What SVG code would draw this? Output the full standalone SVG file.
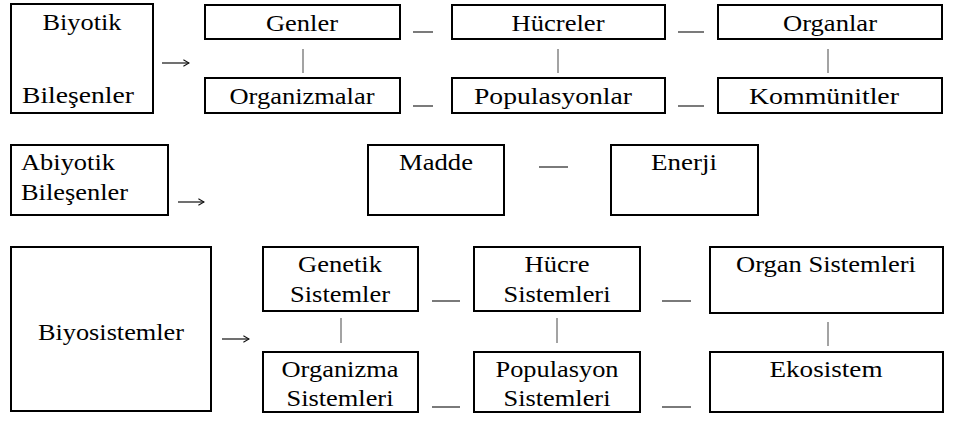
<svg xmlns="http://www.w3.org/2000/svg" width="955" height="421" viewBox="0 0 955 421">
<style>
.box{fill:#fff;stroke:#000;stroke-width:2}
.c{text-anchor:middle}
.dash{stroke:#222;stroke-width:1.2}
.bar{stroke:#666;stroke-width:1.2}
.arr{stroke:#111;stroke-width:1.2;fill:none}
</style>
<defs>
<marker id="ah" viewBox="0 0 10 10" refX="9" refY="5" markerWidth="8" markerHeight="8" markerUnits="userSpaceOnUse" orient="auto">
<path d="M2,1 L9,5 L2,9" fill="none" stroke="#111" stroke-width="1.3"/>
</marker>
</defs>
<rect width="955" height="421" fill="#fff"/>
<g font-family="Liberation Serif, serif" font-size="23" fill="#000">
<g id="biyotik"><rect class="box" x="11" y="4" width="142" height="109"/>
<text class="c" x="82" y="30" textLength="79" lengthAdjust="spacingAndGlyphs">Biyotik</text>
<text class="c" x="78" y="103" textLength="112" lengthAdjust="spacingAndGlyphs">Bileşenler</text></g>
<g id="genler"><rect class="box" x="205" y="5" width="195" height="34"/>
<text class="c" x="302" y="31" textLength="72" lengthAdjust="spacingAndGlyphs">Genler</text></g>
<g id="hucreler"><rect class="box" x="452" y="5" width="213" height="34"/>
<text class="c" x="558" y="31" textLength="93" lengthAdjust="spacingAndGlyphs">Hücreler</text></g>
<g id="organlar"><rect class="box" x="718" y="5" width="224" height="34"/>
<text class="c" x="830" y="31" textLength="94" lengthAdjust="spacingAndGlyphs">Organlar</text></g>
<g id="organizmalar"><rect class="box" x="205" y="78" width="195" height="35"/>
<text class="c" x="302" y="104" textLength="145" lengthAdjust="spacingAndGlyphs">Organizmalar</text></g>
<g id="populasyonlar"><rect class="box" x="452" y="78" width="213" height="35"/>
<text class="c" x="553" y="104" textLength="158" lengthAdjust="spacingAndGlyphs">Populasyonlar</text></g>
<g id="kommunitler"><rect class="box" x="718" y="78" width="224" height="35"/>
<text class="c" x="824" y="104" textLength="150" lengthAdjust="spacingAndGlyphs">Kommünitler</text></g>

<g id="abiyotik"><rect class="box" x="11" y="145" width="157" height="70"/>
<text x="21" y="170" textLength="94" lengthAdjust="spacingAndGlyphs">Abiyotik</text>
<text x="21" y="200" textLength="107" lengthAdjust="spacingAndGlyphs">Bileşenler</text></g>
<g id="madde"><rect class="box" x="368" y="145" width="136" height="70"/>
<text class="c" x="436" y="170" textLength="74" lengthAdjust="spacingAndGlyphs">Madde</text></g>
<g id="enerji"><rect class="box" x="611" y="145" width="147" height="70"/>
<text class="c" x="684" y="170" textLength="66" lengthAdjust="spacingAndGlyphs">Enerji</text></g>

<g id="biyosistemler"><rect class="box" x="11" y="247" width="200" height="164"/>
<text class="c" x="111" y="340" textLength="146" lengthAdjust="spacingAndGlyphs">Biyosistemler</text></g>
<g id="genetik"><rect class="box" x="263" y="247" width="155" height="64"/>
<text class="c" x="340" y="272" textLength="84" lengthAdjust="spacingAndGlyphs">Genetik</text>
<text class="c" x="340" y="302" textLength="100" lengthAdjust="spacingAndGlyphs">Sistemler</text></g>
<g id="hucre"><rect class="box" x="474" y="247" width="166" height="64"/>
<text class="c" x="557" y="272" textLength="65" lengthAdjust="spacingAndGlyphs">Hücre</text>
<text class="c" x="557" y="302" textLength="107" lengthAdjust="spacingAndGlyphs">Sistemleri</text></g>
<g id="organsis"><rect class="box" x="710" y="247" width="233" height="66"/>
<text class="c" x="826" y="272" textLength="180" lengthAdjust="spacingAndGlyphs">Organ Sistemleri</text></g>
<g id="organizma"><rect class="box" x="263" y="352" width="155" height="60"/>
<text class="c" x="340" y="377" textLength="117" lengthAdjust="spacingAndGlyphs">Organizma</text>
<text class="c" x="340" y="406" textLength="107" lengthAdjust="spacingAndGlyphs">Sistemleri</text></g>
<g id="populasyon"><rect class="box" x="474" y="352" width="166" height="60"/>
<text class="c" x="557" y="377" textLength="123" lengthAdjust="spacingAndGlyphs">Populasyon</text>
<text class="c" x="557" y="406" textLength="107" lengthAdjust="spacingAndGlyphs">Sistemleri</text></g>
<g id="ekosistem"><rect class="box" x="710" y="352" width="233" height="60"/>
<text class="c" x="826" y="377" textLength="113" lengthAdjust="spacingAndGlyphs">Ekosistem</text></g>
</g>
<g id="connectors">
<path class="arr" d="M162,63 H189" marker-end="url(#ah)"/>
<path class="arr" d="M178,202 H204" marker-end="url(#ah)"/>
<path class="arr" d="M222,339 H249" marker-end="url(#ah)"/>
<line class="dash" x1="413" y1="32" x2="433" y2="32"/>
<line class="dash" x1="678" y1="32" x2="704" y2="32"/>
<line class="dash" x1="413" y1="106" x2="433" y2="106"/>
<line class="dash" x1="678" y1="106" x2="704" y2="106"/>
<line class="dash" x1="539" y1="167" x2="568" y2="167"/>
<line class="dash" x1="432" y1="301" x2="460" y2="301"/>
<line class="dash" x1="662" y1="301" x2="691" y2="301"/>
<line class="dash" x1="432" y1="407" x2="460" y2="407"/>
<line class="dash" x1="662" y1="407" x2="691" y2="407"/>
<line class="bar" x1="303" y1="49" x2="303" y2="73"/>
<line class="bar" x1="558" y1="49" x2="558" y2="73"/>
<line class="bar" x1="828" y1="49" x2="828" y2="73"/>
<line class="bar" x1="341" y1="318" x2="341" y2="343"/>
<line class="bar" x1="557" y1="318" x2="557" y2="343"/>
<line class="bar" x1="828" y1="322" x2="828" y2="346"/>
</g>
</svg>
